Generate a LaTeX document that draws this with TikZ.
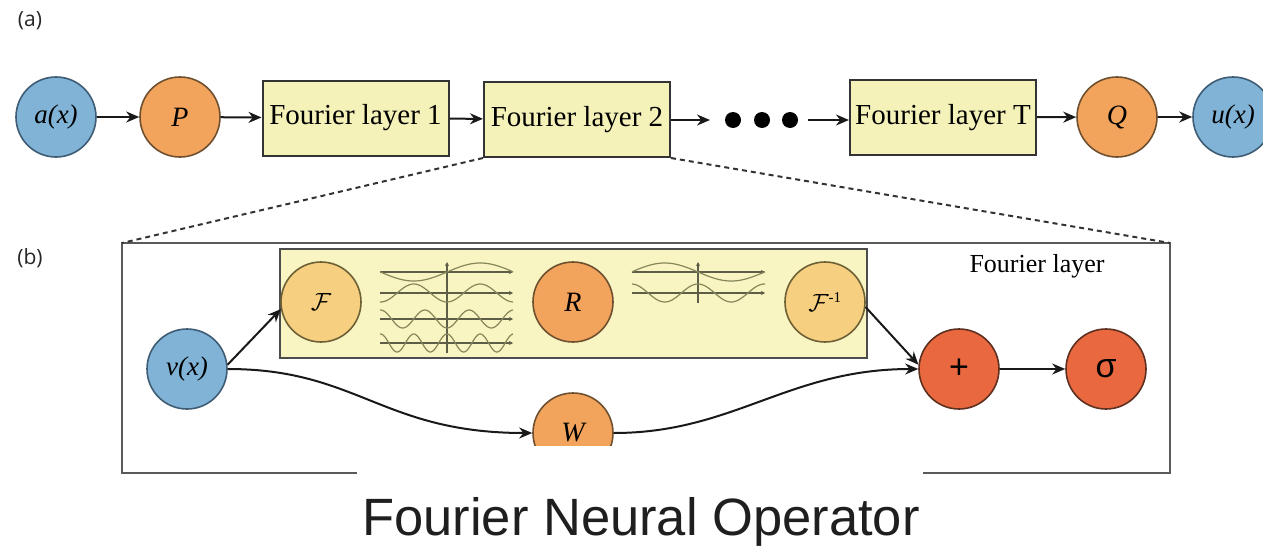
\documentclass[tikz,border=0pt]{standalone}
\usepackage{fontspec}
\setmainfont{Liberation Serif}
\newfontfamily\labelfont{Open Sans}
\newfontfamily\titlefont{Liberation Sans}
\usetikzlibrary{arrows.meta}

\definecolor{inBlue}{HTML}{80B3D6}
\definecolor{inBlueLine}{HTML}{3E5C74}
\definecolor{projOrange}{HTML}{F3A45C}
\definecolor{projLine}{HTML}{6E5030}
\definecolor{fourYellow}{HTML}{F6CF80}
\definecolor{fourLine}{HTML}{6E6035}
\definecolor{actRed}{HTML}{E9683F}
\definecolor{actLine}{HTML}{5E3020}
\definecolor{layerFill}{HTML}{F4F2B8}
\definecolor{innerFill}{HTML}{F8F5C2}
\definecolor{frameGray}{HTML}{5A5A5A}
\definecolor{waveCol}{HTML}{86865A}
\definecolor{axisCol}{HTML}{5E5E48}

% degrees per pixel for one half period of 66.5 px
\pgfmathsetmacro{\kw}{180/66.5}

\tikzset{
  node circ/.style={circle, minimum size=80pt, inner sep=0pt, line width=1.6pt},
  io/.style={node circ, fill=inBlue, draw=inBlueLine, font=\fontsize{27}{30}\selectfont\itshape},
  proj/.style={node circ, fill=projOrange, draw=projLine, font=\fontsize{28}{30}\selectfont\itshape},
  fourier/.style={node circ, fill=fourYellow, draw=fourLine, font=\fontsize{26}{30}\selectfont},
  act/.style={node circ, fill=actRed, draw=actLine, font=\fontsize{34}{38}\selectfont\titlefont},
  layerbox/.style={rectangle, draw=black!80, fill=layerFill, line width=2pt,
    minimum width=186pt, minimum height=75pt, inner sep=0pt, font=\fontsize{29}{32}\selectfont},
  arr/.style={-{Stealth[length=13pt,width=11pt]}, line width=2pt, draw=black!90},
  zoomline/.style={dashed, dash pattern=on 5pt off 4pt, line width=2pt, draw=black!80},
  wave/.style={draw=waveCol, line width=1.2pt},
  axis/.style={draw=axisCol, line width=1.1pt, -{Stealth[length=4pt,width=4pt]}},
  panel/.style={font=\fontsize{21}{24}\selectfont\labelfont, text=black!85},
}

\begin{document}
\begin{tikzpicture}[x=1pt, y=-1pt]
\useasboundingbox (0,0) rectangle (1263,546);
\clip (0,0) rectangle (1263,546);

% ---------- (a) overall pipeline ----------
\node[panel] (lblA) at (30,21) {(a)};

\node[io]   (a)  at (56,117)   {a(x)};
\node[proj] (P)  at (180,117)  {P};
\node[layerbox] (L1) at (355.5,118) {Fourier layer 1};
\node[layerbox] (L2) at (577,119.5) {Fourier layer 2};
\node[layerbox] (LT) at (943,117.5) {Fourier layer T};
\node[proj] (Q)  at (1117,117) {Q};
\node[io]   (u)  at (1233,117) {u(x)};

\foreach \i/\x in {1/733,2/762,3/790}
  \node[circle, fill=black, minimum size=16pt, inner sep=0pt] (dot\i) at (\x,120) {};
\coordinate (dotsIn)  at (710,120);
\coordinate (dotsOut) at (808,120);

\draw[arr] (a) -- (P);
\draw[arr] (P) -- (L1);
\draw[arr] (L1) -- (L2);
\draw[arr] (L2.east |- dotsIn) -- (dotsIn);
\draw[arr] (dotsOut) -- (LT.west |- dotsOut);
\draw[arr] (LT) -- (Q);
\draw[arr] (Q) -- (u);

% ---------- (b) one Fourier layer ----------
\node[panel] (lblB) at (30,258) {(b)};

\coordinate (frameTL) at (122,243);
\coordinate (frameTR) at (1170,243);
\draw[frameGray, line width=2.4pt] (frameTL) rectangle (1170,473);
\draw[zoomline] (L2.south west) -- (frameTL);
\draw[zoomline] (L2.south east) -- (frameTR);

\node[font=\fontsize{26}{29}\selectfont, anchor=base] (flabel) at (1037,272) {Fourier layer};

% spectral branch box
\draw[fill=innerFill, draw=black!70, line width=1.6pt] (280,249) rectangle (867,358);

% Fourier modes, forward transform
\draw[axis] (447,353) -- (447,262);
\foreach \yy in {272,293,319,343}
  \draw[axis] (380,\yy) -- (513,\yy);
\draw[wave] plot[domain=380:513, samples=80, smooth] (\x, {272 - 9*sin(\kw*(\x-447))});
\draw[wave] plot[domain=380:513, samples=80, smooth] (\x, {293 + 9*cos(2*\kw*(\x-447))});
\draw[wave] plot[domain=380:513, samples=100, smooth] (\x, {319 + 9*cos(3*\kw*(\x-447))});
\draw[wave] plot[domain=380:513, samples=120, smooth] (\x, {343 - 9*cos(4*\kw*(\x-447))});

% retained modes, inverse transform
\draw[axis] (698,303) -- (698,262);
\foreach \yy in {272,293}
  \draw[axis] (632,\yy) -- (765,\yy);
\draw[wave] plot[domain=632:765, samples=80, smooth] (\x, {272 + 9*sin(\kw*(\x-698))});
\draw[wave] plot[domain=632:765, samples=80, smooth] (\x, {293 - 9*cos(2*\kw*(\x-698))});

\node[io]      (v)     at (187,369) {v(x)};
\node[fourier] (F)     at (321,302) {$\mathcal{F}$};
\node[proj]    (R)     at (573,302) {R};
\node[fourier] (Finv)  at (825,302) {$\mathcal{F}^{\hbox{\fontsize{15}{15}\selectfont -1}}$};
\node[proj]    (W)     at (573,433) {W};
\node[act]     (plus)  at (959,369) {+};
\node[act]     (sigma) at (1106,369) {σ};

\draw[arr] (v.6) -- (F.190);
\draw[arr] (v.east) .. controls +(130,0) and +(-150,0) .. (W.west);
\draw[arr] (W.east) .. controls +(120,0) and +(-130,0) .. (plus.west);
\draw[arr] (Finv.-7) -- (plus.174);
\draw[arr] (plus) -- (sigma);

% caption plate over the lower edge
\fill[white] (357,446) rectangle (923,546);
\node[font=\fontsize{52.5}{60}\selectfont\titlefont, text=black!88, anchor=base] (title) at (641,535) {Fourier Neural Operator};
\end{tikzpicture}
\end{document}
